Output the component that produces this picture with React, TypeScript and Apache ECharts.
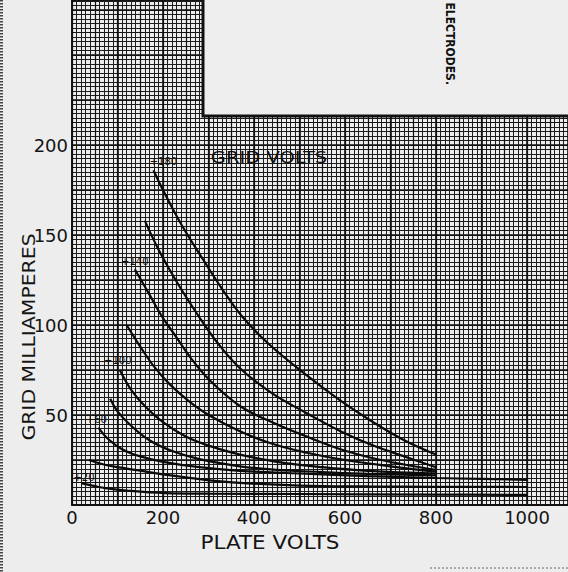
import React, { useEffect, useRef } from "react";
import * as echarts from "echarts";

// Axis ticks
const xTickLabels = [0, 200, 400, 600, 800, 1000];
const yTickLabels = [50, 100, 150, 200];

// Grid volts of each curve
const curveNames = ["+20", "+40", "+60", "+80", "+100", "+120", "+140", "+160", "+180"];
const labelledCurves = ["+20", "+60", "+100", "+140", "+180"];

// [plate volts, grid milliamperes]
const c20 = [[22, 12], [50, 10.5], [73, 9.4], [120, 8], [205, 6.6], [300, 6.3], [500, 6.1], [800, 5.8], [1000, 5.6]];
const c40 = [[37, 25], [70, 22.5], [100, 21], [147, 19.2], [200, 17], [293, 14], [369, 12.3], [500, 10.8], [650, 10.3], [800, 10.1], [1000, 10]];
const c60 = [[58, 43], [80, 36.5], [110, 31], [150, 27], [200, 24], [280, 21], [369, 19], [500, 17.5], [650, 16], [800, 15], [900, 14.5], [1000, 14]];
const c80 = [[84, 59], [100, 52], [130, 44], [170, 36], [220, 30], [280, 25.5], [369, 21.5], [450, 19.5], [550, 18.3], [650, 17.3], [800, 16.5]];
const c100 = [[105, 75], [130, 64], [160, 55], [200, 46], [250, 38], [300, 33], [369, 28], [450, 24], [550, 21], [650, 19], [800, 17.5]];
const c120 = [[120, 100], [150, 88], [180, 77], [215, 67], [260, 57], [300, 50], [369, 41], [440, 34], [516, 29], [600, 25], [700, 21.5], [800, 18.5]];
const c140 = [[138, 131], [170, 117], [197, 105], [230, 93], [260, 82], [300, 70], [369, 55], [440, 46], [516, 38], [590, 31], [662, 26], [730, 22.5], [800, 19.5]];
const c160 = [[160, 158], [190, 142], [230, 124], [278, 105], [320, 90], [369, 76], [440, 62], [516, 51], [590, 41], [662, 33], [730, 27], [800, 21]];
const c180 = [[179, 186], [200, 175], [240, 156], [289, 136], [330, 120], [373, 105], [430, 90], [516, 72], [590, 58], [662, 46], [730, 36], [800, 28]];

const curves = [c20, c40, c60, c80, c100, c120, c140, c160, c180];

const FONT = "DejaVu Sans";
const INK = "#111111";

// label offset (px) from each curve's first point
const labelOffsets: Record<string, number[]> = {
  "+180": [10, -9],
  "+140": [0, -8],
  "+100": [-2, -10],
  "+60": [-2, -8],
  "+20": [2, -6],
};

export default function App() {
  const ref = useRef<HTMLDivElement>(null);

  useEffect(() => {
    if (!ref.current) return;
    const chart = echarts.init(ref.current, null, { renderer: "svg" });

    const series: any[] = curves.map((d, i) => ({
      type: "line",
      name: curveNames[i],
      data: d,
      smooth: 0.4,
      symbol: "none",
      showSymbol: false,
      itemStyle: { color: INK },
      lineStyle: { color: "#0a0a0a", width: 2.2 },
      z: 5,
      silent: true,
    }));

    const option: any = {
      animation: false,
      color: [INK],
      backgroundColor: "#ededed",
      grid: { left: 72, right: 0, top: 0, bottom: 67, containLabel: false },
      xAxis: [
        {
          type: "value",
          min: 0,
          max: 1090,
          interval: 100,
          axisLine: { show: true, onZero: false, lineStyle: { color: INK, width: 1.8 } },
          axisTick: { show: false },
          axisLabel: {
            margin: 3,
            fontSize: 18,
            color: "#141414",
            fontFamily: FONT,
            showMaxLabel: false,
            formatter: (v: number) => (xTickLabels.includes(v) ? String(v) : ""),
          },
          splitLine: { show: true, lineStyle: { color: INK, width: 1.6 } },
          minorTick: { show: false, splitNumber: 10 },
          minorSplitLine: { show: true, lineStyle: { color: "#1c1c1c", width: 1 } },
        },
        {
          type: "value",
          min: 0,
          max: 1090,
          interval: 50,
          axisLine: { show: false },
          axisTick: { show: false },
          axisLabel: { show: false },
          splitLine: { show: true, lineStyle: { color: INK, width: 1.2 } },
        },
      ],
      yAxis: [
        {
          type: "value",
          min: 0,
          max: 280.56,
          interval: 25,
          axisLine: { show: true, onZero: false, lineStyle: { color: INK, width: 1.8 } },
          axisTick: { show: false },
          axisLabel: {
            margin: 4,
            fontSize: 18,
            color: "#141414",
            fontFamily: FONT,
            showMaxLabel: false,
            formatter: (v: number) => (yTickLabels.includes(v) ? String(v) : ""),
          },
          splitLine: { show: true, lineStyle: { color: INK, width: 1.6 } },
          minorTick: { show: false, splitNumber: 10 },
          minorSplitLine: { show: true, lineStyle: { color: "#1c1c1c", width: 1 } },
        },
        {
          type: "value",
          min: 0,
          max: 280.56,
          interval: 12.5,
          axisLine: { show: false },
          axisTick: { show: false },
          axisLabel: { show: false },
          splitLine: { show: true, lineStyle: { color: INK, width: 1.2 } },
        },
      ],
      series,
      graphic: [
        {
          id: "box",
          type: "rect",
          z: 100,
          silent: true,
          shape: { x: 203, y: -6, width: 380, height: 122 },
          style: { fill: "#eeeeee", stroke: INK, lineWidth: 3 },
        },
        {
          id: "electrodes",
          type: "text",
          z: 101,
          silent: true,
          x: 450,
          y: 85,
          rotation: -Math.PI / 2,
          scaleX: 0.9,
          style: {
            text: "ELECTRODES.",
            font: `bold 12px "${FONT}"`,
            fill: INK,
            align: "right",
            verticalAlign: "middle",
          },
        },
        {
          id: "gridvolts",
          type: "text",
          z: 101,
          silent: true,
          x: 269,
          y: 158,
          scaleX: 1.3,
          style: {
            text: "GRID VOLTS",
            font: `15px "${FONT}"`,
            fill: INK,
            align: "center",
            verticalAlign: "middle",
          },
        },
        {
          id: "xname",
          type: "text",
          z: 101,
          silent: true,
          x: 270,
          y: 542,
          scaleX: 1.13,
          style: {
            text: "PLATE VOLTS",
            font: `19px "${FONT}"`,
            fill: "#141414",
            align: "center",
            verticalAlign: "middle",
          },
        },
        {
          id: "yname",
          type: "text",
          z: 101,
          silent: true,
          x: 29,
          y: 337,
          rotation: Math.PI / 2,
          scaleX: 1.2,
          style: {
            text: "GRID MILLIAMPERES",
            font: `17px "${FONT}"`,
            fill: "#141414",
            align: "center",
            verticalAlign: "middle",
          },
        },
        {
          id: "edgeLeft",
          type: "line",
          z: 101,
          silent: true,
          shape: { x1: 1.5, y1: 0, x2: 1.5, y2: 572 },
          style: { stroke: "#444", lineWidth: 3, lineDash: [1.5, 1.5] },
        },
        {
          id: "edgeBottom",
          type: "line",
          z: 101,
          silent: true,
          shape: { x1: 430, y1: 568, x2: 568, y2: 568 },
          style: { stroke: "#666", lineWidth: 1, lineDash: [2, 2] },
        },
      ],
    };

    chart.setOption(option);

    // curve labels placed at each curve's first point through the chart's scales
    const labels: any[] = [];
    curves.forEach((d, i) => {
      const name = curveNames[i];
      if (!labelledCurves.includes(name)) return;
      const p = chart.convertToPixel({ xAxisIndex: 0, yAxisIndex: 0 }, d[0]) as number[];
      const off = labelOffsets[name];
      labels.push({
        id: "lbl" + name,
        type: "text",
        z: 102,
        silent: true,
        x: p[0] + off[0],
        y: p[1] + off[1],
        style: {
          text: name,
          font: `10px "${FONT}"`,
          fill: INK,
          align: "center",
          verticalAlign: "middle",
        },
      });
    });
    chart.setOption({ graphic: labels });

    return () => chart.dispose();
  }, []);

  return (
    <div
      ref={ref}
      style={{ position: "fixed", left: 0, top: 0, width: 568, height: 572 }}
    />
  );
}
